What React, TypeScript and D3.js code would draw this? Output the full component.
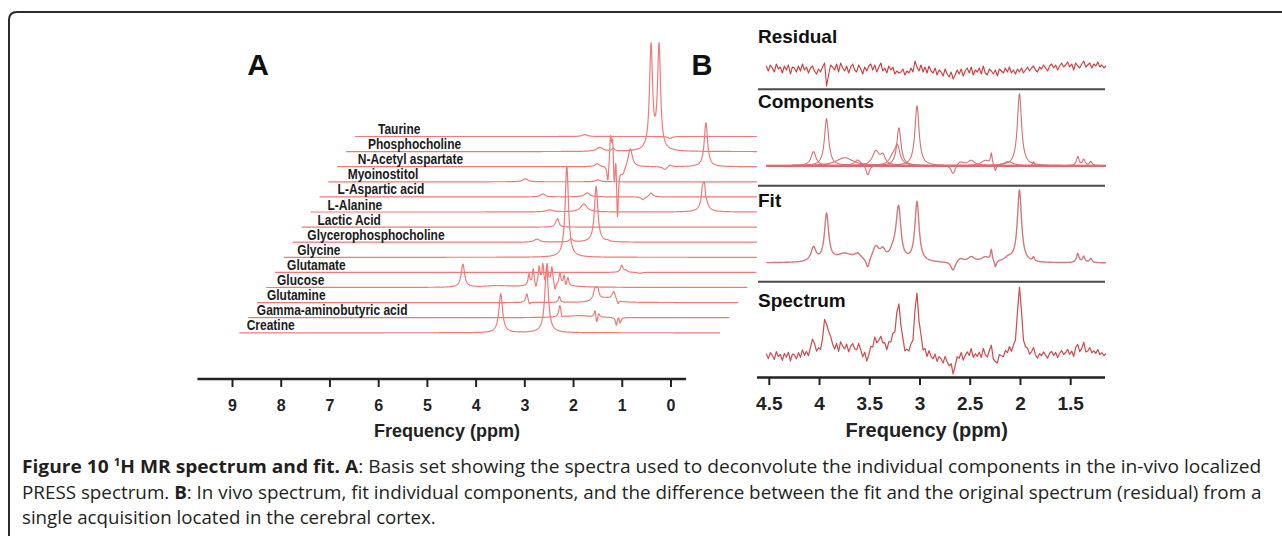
import React, { useLayoutEffect, useRef } from "react";
import * as d3 from "d3";

// ---------------- Panel A : basis set ----------------
const metaboliteNames = [
  "Taurine",
  "Phosphocholine",
  "N-Acetyl aspartate",
  "Myoinostitol",
  "L-Aspartic acid",
  "L-Alanine",
  "Lactic Acid",
  "Glycerophosphocholine",
  "Glycine",
  "Glutamate",
  "Glucose",
  "Glutamine",
  "Gamma-aminobutyric acid",
  "Creatine",
];

// peaks: [ppm, intensity, half width (ppm)]
const taurinePeaks = [[2.29, 2, 0.056], [0.69, -2, 0.04]];
const phosphocholinePeaks = [[2.01, 4, 0.075], [1.76, 3, 0.03], [1.05, 104, 0.034], [0.9, 104, 0.034]];
const naaPeaks = [
  [2.06, 3, 0.05], [1.86, -18, 0.02], [1.81, 30, 0.02], [1.77, 30, 0.02], [1.74, -28, 0.02],
  [1.71, 25, 0.02], [1.68, -56, 0.02], [1.58, -8, 0.05], [1.44, 19, 0.047], [0.79, -3, 0.05],
  [0.69, 2, 0.04], [0.02, 44, 0.038],
];
const myoPeaks = [[3.41, 3, 0.056], [2.05, 2, 0.05]];
const aspartatePeaks = [[3.08, 3, 0.05], [2.25, 4, 0.06], [1.2, -3, 0.04], [1.05, 4, 0.04]];
const alaninePeaks = [[2.95, 2, 0.08], [2.31, 8, 0.075], [0.09, 6, 0.015], [0.056, 30, 0.047], [0.02, -4, 0.015]];
const lactatePeaks = [[2.83, 3, 0.03], [2.8, 7, 0.028]];
const gpcPeaks = [[3.19, 3, 0.06], [2.55, 3, 0.04], [2.08, 56, 0.038], [1.86, 1, 0.03]];
const glycinePeaks = [[2.63, 91, 0.038]];
const glutamatePeaks = [[1.6, 7, 0.028], [1.52, 2, 0.03], [1.26, -1, 0.04]];
const glucosePeaks = [
  [4.58, 23, 0.038], [3.94, 1.5, 0.28], [2.95, 4, 0.3], [3.34, 11, 0.02], [3.26, 16, 0.02],
  [3.21, -6, 0.02], [3.15, 17, 0.02], [3.08, 19, 0.02], [3.04, -5, 0.02], [3.0, 19, 0.02],
  [2.91, 16, 0.02], [2.85, -8, 0.02], [2.76, 11, 0.02], [2.68, 10, 0.02], [2.65, -4, 0.02],
  [2.61, 8, 0.02],
];
const glutaminePeaks = [
  [3.38, 9, 0.025], [3.33, -3, 0.02], [2.77, 6, 0.02], [2.1, 11, 0.04], [2.05, 9, 0.03],
  [1.9, 4, 0.15], [1.75, 9, 0.04], [1.67, -4, 0.02],
];
const gabaPeaks = [
  [2.76, 12, 0.025], [2.72, -3, 0.02], [2.4, 2, 0.3], [2.1, 8, 0.02], [2.07, -8, 0.02],
  [2.03, 4, 0.02], [1.7, -8, 0.02], [1.66, 3, 0.02], [1.63, -6, 0.02],
];
const creatinePeaks = [[3.87, 39, 0.041], [3.01, 65, 0.041]];

const basisPeaks = [
  taurinePeaks, phosphocholinePeaks, naaPeaks, myoPeaks, aspartatePeaks, alaninePeaks,
  lactatePeaks, gpcPeaks, glycinePeaks, glutamatePeaks, glucosePeaks, glutaminePeaks,
  gabaPeaks, creatinePeaks,
];

const ticksA = [9, 8, 7, 6, 5, 4, 3, 2, 1, 0];

// ---------------- Panel B : in vivo fit ----------------
const creatineB = [[3.93, 47, 0.025], [3.03, 60, 0.025]];
const naaB = [[2.01, 72, 0.025], [2.49, 5, 0.04], [2.6, 4, 0.04], [2.67, -9, 0.025]];
const cholineB = [[3.21, 38, 0.025]];
const gpcB = [[3.225, 18, 0.03], [3.27, 8, 0.04]];
const myoB = [[4.06, 14, 0.03], [3.62, 6, 0.04], [3.52, -10, 0.02]];
const glucoseB = [[3.44, 14, 0.04], [3.37, 9, 0.03]];
const glxB = [[3.75, 8, 0.1], [2.35, 5, 0.05], [2.12, 4, 0.05], [2.29, 11, 0.01], [2.25, -7, 0.012]];
const lipidB = [[1.87, 4, 0.01], [1.43, 9, 0.015], [1.37, 6, 0.015], [1.3, 4, 0.015]];
const componentsB = [creatineB, naaB, cholineB, gpcB, myoB, glucoseB, glxB, lipidB];

// residual (spectrum - fit), sampled from 4.53 ppm every 0.02 ppm
const RES_START = 4.53;
const RES_STEP = 0.02;
const residual = [
  3, -2, 4, 1, -3, 5, 0, 2, -4, 3,
  -1, 4, -5, 2, 1, -3, 3, -2, 5, -1,
  2, -4, 1, 3, -2, -5, 0, -3, 2, 6,
  -17, -6, 4, 2, -1, 5, -3, 6, 1, -2,
  3, -4, 2, 5, -1, -3, 4, 0, -5, 2,
  -2, 3, 5, -1, 4, -3, 2, 6, -2, 1,
  -4, 3, -1, 2, -5, -2, -4, -3, 0, -6,
  -2, -4, 1, -3, 8, 2, -2, 4, -3, 2,
  -4, 3, -2, -4, 1, -6, -1, -3, -7, 0,
  -5, -8, -3, -10, -6, -1, -5, 0, -7, -2,
  1, -4, 2, -6, -1, -3, 1, -5, 3, -4,
  -6, 0, -2, -5, -1, -7, 0, -2, -4, 1,
  -3, 2, -4, -1, -5, 0, -3, 1, -4, -1,
  2, -2, 1, 3, -1, -3, 2, 0, 4, 1,
  -2, 3, 5, 1, 4, -1, 3, 6, 2, 4,
  7, 2, 5, -1, 6, 3, 1, 5, 8, 2,
  4, 6, 1, 5, 3, 7, 2, 4, 1, 3,
];

const ticksB = [4.5, 4, 3.5, 3, 2.5, 2, 1.5];
const tickLabelsB = ["4.5", "4", "3.5", "3", "2.5", "2", "1.5"];
const sectionLabelsB = ["Residual", "Components", "Fit", "Spectrum"];

const FONT = "'Liberation Sans', Arial, Helvetica, sans-serif";

const lor = (peaks: number[][], p: number) =>
  peaks.reduce((s, [c, h, w]) => s + h / (1 + ((p - c) / w) ** 2), 0);

export default function App() {
  const capRefs = useRef<(SVGTextElement | null)[]>([]);
  const capLayout = [
    { x: 22, y: 473, w: 1240 },
    { x: 22, y: 499, w: 1240 },
    { x: 22, y: 524, w: 414 },
  ];

  useLayoutEffect(() => {
    capLayout.forEach((c, i) => {
      const el = capRefs.current[i];
      if (!el) return;
      el.removeAttribute("transform");
      const len = el.getComputedTextLength();
      const s = len > 0 ? c.w / len : 1;
      el.setAttribute("transform", `translate(${c.x},${c.y}) scale(${s},1)`);
    });
  }, []);

  // ----- Panel A scales -----
  const xAxisA = d3.scaleLinear().domain([0, 9]).range([671, 232.5]);
  const xT = d3.scaleLinear().domain([0, 9]).range([707, 707 - 9 * 53.3]);
  const rowY = (i: number) => 136.5 + 15.1 * i;

  const rowsA = metaboliteNames.map((name, i) => {
    const base = rowY(i);
    const yS = d3.scaleLinear().domain([0, 100]).range([base, base - 100]);
    const left = 355 - 8.9 * i;
    const right = Math.min(757, 720 + (13 - i) * 9.1);
    const pts = d3.range(xT.invert(left), xT.invert(right), -0.25 / 53.3);
    pts.push(xT.invert(right));
    const peaks = basisPeaks[i];
    const line = d3
      .line<number>()
      .x((p) => xT(p))
      .y((p) => yS(lor(peaks, p)));
    return { name, d: line(pts) || "", base, i };
  });

  // ----- Panel B scales -----
  const xB = d3.scaleLinear().domain([4.5, 1.5]).range([769.3, 1070.7]);
  const fitAt = (p: number) => componentsB.reduce((s, comp) => s + lor(comp, p), 0);
  const resEnd = RES_START - (residual.length - 1) * RES_STEP;
  const fine = d3.range(RES_START, resEnd, -0.004);
  fine.push(resEnd);
  const resPpm = residual.map((_, i) => RES_START - i * RES_STEP);

  const yRes = d3.scaleLinear().domain([0, 100]).range([69, -31]);
  const yComp = d3.scaleLinear().domain([0, 100]).range([165.7, 65.7]);
  const yFit = d3.scaleLinear().domain([0, 100]).range([263, 163]);
  const ySpec = d3.scaleLinear().domain([0, 100]).range([357, 257]);

  const resLine = d3
    .line<number>()
    .x((_, i) => xB(resPpm[i]))
    .y((v) => yRes(v))(residual) || "";
  const compPaths = componentsB.map(
    (comp) =>
      d3
        .line<number>()
        .x((p) => xB(p))
        .y((p) => yComp(lor(comp, p)))(fine) || ""
  );
  const fitPath = d3
    .line<number>()
    .x((p) => xB(p))
    .y((p) => yFit(fitAt(p)))(fine) || "";
  const specPath = d3
    .line<number>()
    .x((_, i) => xB(resPpm[i]))
    .y((v, i) => ySpec(fitAt(resPpm[i]) + v))(residual) || "";

  const sepY = [89.3, 185.7, 281.7];
  const labelPos = [43, 108.3, 206.7, 306.7];

  return (
    <svg
      width={1282}
      height={536}
      style={{ position: "absolute", left: 0, top: 0, display: "block" }}
      fontFamily={FONT}
    >
      <rect x={0} y={0} width={1282} height={536} fill="#ffffff" />
      <path d="M9,545 V20 Q9,12 17,12 H1295" fill="none" stroke="#2b2b2b" strokeWidth={2} />

      {/* Panel letters */}
      <text x={258} y={75} fontSize={30} fontWeight="bold" textAnchor="middle" fill="#111">A</text>
      <text x={702} y={75} fontSize={29} fontWeight="bold" textAnchor="middle" fill="#111">B</text>

      {/* Panel A traces */}
      <g fill="none" stroke="#f07a7a" strokeWidth={1.2} strokeLinejoin="round">
        {rowsA.map((r) => (
          <path key={r.name} d={r.d} />
        ))}
      </g>
      <g fill="#1b1b1b" fontWeight="bold" fontSize={15}>
        {rowsA.map((r) => (
          <text key={r.name} transform={`translate(${378 - r.i * 10.1},${r.base - 2.5}) scale(0.8,1)`}>
            {r.name}
          </text>
        ))}
      </g>

      {/* Panel A axis */}
      <g stroke="#222" strokeWidth={2.5}>
        <line x1={xAxisA(9.72)} x2={xAxisA(-0.31)} y1={379} y2={379} />
        {ticksA.map((t) => (
          <line key={t} x1={xAxisA(t)} x2={xAxisA(t)} y1={379} y2={387} strokeWidth={2} />
        ))}
      </g>
      <g fontSize={16} fontWeight="bold" textAnchor="middle" fill="#222">
        {ticksA.map((t) => (
          <text key={t} x={xAxisA(t)} y={411}>{t}</text>
        ))}
      </g>
      <text x={447} y={437} fontSize={18} fontWeight="bold" textAnchor="middle" fill="#222">
        Frequency (ppm)
      </text>

      {/* Panel B */}
      <g fontSize={19} fontWeight="bold" fill="#111">
        {sectionLabelsB.map((s, i) => (
          <text key={s} x={758} y={labelPos[i]}>{s}</text>
        ))}
      </g>
      <g stroke="#4a4a4a" strokeWidth={2}>
        {sepY.map((y) => (
          <line key={y} x1={758} x2={1105} y1={y} y2={y} />
        ))}
      </g>
      <path d={resLine} fill="none" stroke="#d23a3c" strokeWidth={1.1} strokeLinejoin="round" />
      <line x1={xB(RES_START)} x2={xB(resEnd)} y1={165.7} y2={165.7} stroke="#e22a2a" strokeWidth={2} />
      <g fill="none" stroke="#d66f72" strokeWidth={1.1} strokeLinejoin="round">
        {compPaths.map((d, i) => (
          <path key={i} d={d} />
        ))}
      </g>
      <path d={fitPath} fill="none" stroke="#d3787b" strokeWidth={1.4} strokeLinejoin="round" />
      <path d={specPath} fill="none" stroke="#cf4a4d" strokeWidth={1.2} strokeLinejoin="round" />

      {/* Panel B axis */}
      <g stroke="#222" strokeWidth={2.5}>
        <line x1={757} x2={1105} y1={377.5} y2={377.5} />
        {ticksB.map((t) => (
          <line key={t} x1={xB(t)} x2={xB(t)} y1={377.5} y2={385} strokeWidth={2} />
        ))}
      </g>
      <g fontSize={19} fontWeight="bold" textAnchor="middle" fill="#222">
        {ticksB.map((t, i) => (
          <text key={t} x={xB(t)} y={410}>{tickLabelsB[i]}</text>
        ))}
      </g>
      <text x={926.7} y={437} fontSize={20} fontWeight="bold" textAnchor="middle" fill="#222">
        Frequency (ppm)
      </text>

      {/* Caption */}
      <g fontFamily="'Open Sans', 'Noto Sans', sans-serif" fontSize={18} fill="#231f20">
        <text ref={(el) => { capRefs.current[0] = el; }} x={0} y={0}>
          <tspan fontWeight="bold">{"Figure 10 "}</tspan>
          <tspan fontWeight="bold" fontSize={11} dy={-7}>1</tspan>
          <tspan fontWeight="bold" dy={7}>{"H MR spectrum and fit. A"}</tspan>
          <tspan>{": Basis set showing the spectra used to deconvolute the individual components in the in-vivo localized"}</tspan>
        </text>
        <text ref={(el) => { capRefs.current[1] = el; }} x={0} y={0}>
          <tspan>{"PRESS spectrum. "}</tspan>
          <tspan fontWeight="bold">B</tspan>
          <tspan>{": In vivo spectrum, fit individual components, and the difference between the fit and the original spectrum (residual) from a"}</tspan>
        </text>
        <text ref={(el) => { capRefs.current[2] = el; }} x={0} y={0}>
          {"single acquisition located in the cerebral cortex."}
        </text>
      </g>
    </svg>
  );
}
